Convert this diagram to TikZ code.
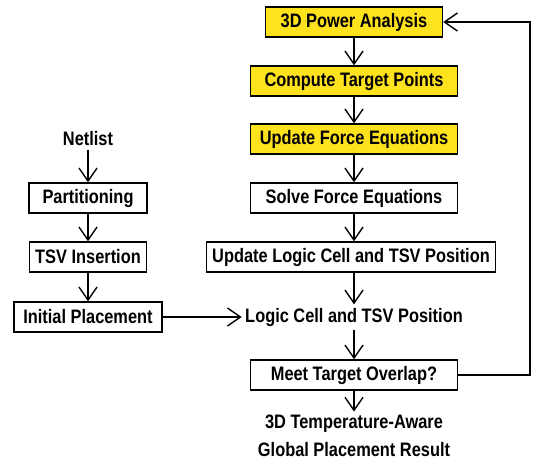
\documentclass[tikz,border=0pt]{standalone}
\usepackage{fontspec}
\setmainfont{Liberation Sans}[FakeStretch=0.84]
\usepackage{xcolor}
\usetikzlibrary{arrows.meta}
\definecolor{flowyellow}{RGB}{255,226,30}

\begin{document}
\begin{tikzpicture}[x=1pt, y=-1pt,
    every node/.style={font=\fontsize{19.5}{22}\selectfont\bfseries},
    box/.style={draw, line width=1.4pt, minimum height=30pt, inner xsep=6pt},
    hot/.style={box, fill=flowyellow},
    flow/.style={line width=1.4pt, -{Straight Barb[length=13pt, width=18pt, line width=1.4pt]}}]
    \useasboundingbox (0,0) rectangle (536,464);

    % left column
    \node (netlist) at (88,139) {Netlist};
    \node[box, minimum width=118pt] (part) at (88,198) {Partitioning};
    \node[box] (tsv) at (88,257) {TSV Insertion};
    \node[box, minimum width=148pt] (init) at (88,317) {Initial Placement};

    % right column
    \node[hot, minimum width=177pt] (power) at (354,22) {3D Power Analysis};
    \node[hot, minimum width=207pt] (target) at (354,81) {Compute Target Points};
    \node[hot, minimum width=207pt] (force) at (354,139) {Update Force Equations};
    \node[box, minimum width=207pt] (solve) at (354,198) {Solve Force Equations};
    \node[box, minimum width=288pt] (update) at (351,257) {Update Logic Cell and TSV Position};
    \node (pos) at (354,317) {Logic Cell and TSV Position};
    \node[box, minimum width=207pt] (meet) at (354,375) {Meet Target Overlap?};
    \node[align=center, font=\fontsize{19.5}{28}\selectfont\bfseries] (result) at (354,436) {3D Temperature-Aware\\Global Placement Result};

    \draw[flow] (netlist) -- (part);
    \draw[flow] (part) -- (tsv);
    \draw[flow] (tsv) -- (init);
    \draw[flow] (init) -- (pos);

    \draw[flow] (power) -- (target);
    \draw[flow] (target) -- (force);
    \draw[flow] (force) -- (solve);
    \draw[flow] (solve) -- (update.north -| solve);
    \draw[flow] (update.south -| solve) -- (pos);
    \draw[flow] (pos) -- (meet);
    \draw[flow] (meet) -- (result);

    % loop back
    \coordinate (turn) at (530,375);
    \draw[flow] (meet.east) -- (turn) |- (power.east);
  \end{tikzpicture}
\end{document}
